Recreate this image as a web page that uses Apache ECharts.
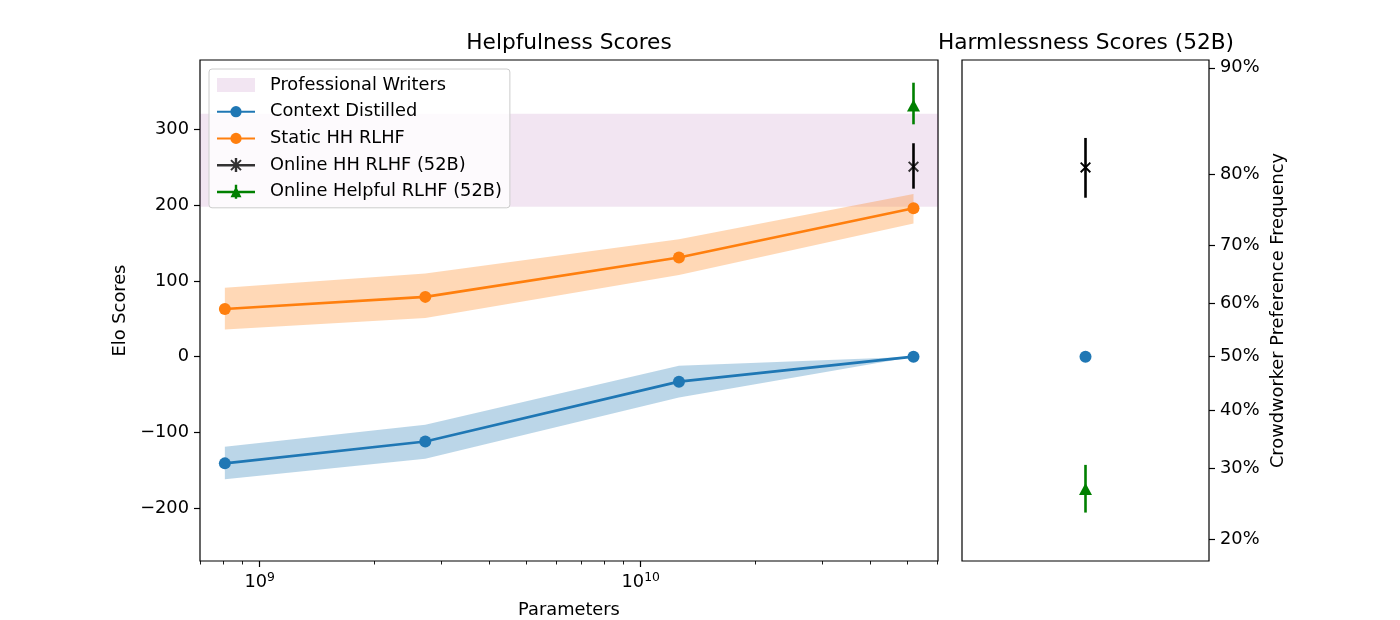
<!DOCTYPE html>
<html>
<head>
<meta charset="utf-8">
<script src="https://cdn.jsdelivr.net/npm/echarts@6/dist/echarts.min.js"></script>
<style>
  html, body { margin: 0; padding: 0; background: #fff; }
  #chart { width: 1400px; height: 620px; }
</style>
</head>
<body>
<div id="chart"></div>
<script>
// model sizes (parameters)
const params = [8.1e8, 2.72e9, 1.26e10, 5.2e10];

// helpfulness Elo
const cdElo = [-141, -112, -33, 0];
const cdUpper = [-119, -90, -12, 0];
const cdLower = [-162, -135, -54, 0];

const staticElo = [63, 79, 131, 196];
const staticUpper = [91, 110, 155, 215];
const staticLower = [36, 51, 108, 176];

const writersBand = [198, 321];

// 52B online models on the helpfulness panel: [elo, low, high]
const onlineHHHelp = [251, 222, 282];
const onlineHelpfulHelp = [332, 307, 362];

// harmlessness panel (Elo units, shown as preference %)
const harmCD = 0;
const harmOnlineHH = [250, 210, 289];
const harmOnlineHelpful = [-175, -206, -143];

// tick labels
const eloTicks = [-200, -100, 0, 100, 200, 300];
const pctTicks = [20, 30, 40, 50, 60, 70, 80, 90];
const decadeTicks = [9, 10];
const minorTickParams = [7e8, 8e8, 9e8, 2e9, 3e9, 4e9, 5e9, 6e9, 7e9, 8e9, 9e9,
  2e10, 3e10, 4e10, 5e10, 6e10];

const FONT = 'DejaVu Sans';
const FS = 17.8;
const C0 = '#1f77b4', C1 = '#ff7f0e', GREEN = '#008000';

const xMin = Math.log10(6.97e8), xMax = Math.log10(6.03e10);
const yMin = -270, yMax = 392;

const lx = params.map(p => Math.log10(p));
const pctToElo = p => 400 * Math.log10(p / (100 - p));

const chart = echarts.init(document.getElementById('chart'), null, { renderer: 'canvas' });

// symbols
const xMark = 'path://M1.7,0.3L11.7,10.3L10.3,11.7L0.3,1.7ZM1.7,11.7L0.3,10.3L10.3,0.3L11.7,1.7Z';
const legendX = 'path://M0,6L38,6L38,8.4L0,8.4ZM17.8,0L20.2,0L20.2,14L17.8,14Z' +
  'M14.7,1.3L24.7,11.3L23.3,12.7L13.3,2.7ZM14.7,12.7L13.3,11.3L23.3,1.3L24.7,2.7Z';
const legendTri = 'path://M0,6L38,6L38,8.4L0,8.4ZM17.8,0L20.2,0L20.2,14L17.8,14ZM19,1.5L24.5,12.5L13.5,12.5Z';

function bandRender(upper, lower, color) {
  return function (p, api) {
    if (p.dataIndex !== 0) return;
    const pts = [];
    for (let i = 0; i < lx.length; i++) pts.push(api.coord([lx[i], upper[i]]));
    for (let i = lx.length - 1; i >= 0; i--) pts.push(api.coord([lx[i], lower[i]]));
    return { type: 'polygon', shape: { points: pts }, style: { fill: color }, silent: true };
  };
}

function errRender(color) {
  return function (p, api) {
    const a = api.coord([api.value(0), api.value(1)]);
    const b = api.coord([api.value(0), api.value(2)]);
    return {
      type: 'line',
      shape: { x1: a[0], y1: a[1], x2: b[0], y2: b[1] },
      style: { stroke: color, lineWidth: 2.6 }
    };
  };
}

const axisText = { color: '#000', fontFamily: FONT, fontSize: FS };
const noLine = { show: false, onZero: false };
const titleText = { fontFamily: FONT, fontSize: 21.7, fontWeight: 'normal', color: '#000' };

const option = {
  animation: false,
  backgroundColor: '#fff',
  title: [
    { text: 'Helpfulness Scores', left: 569, top: 32, padding: 0, textAlign: 'center', textStyle: titleText },
    { text: 'Harmlessness Scores (52B)', left: 1086, top: 32, padding: 0, textAlign: 'center', textStyle: titleText }
  ],
  grid: [
    { left: 200, top: 60, width: 738, height: 501, show: true, outerBoundsMode: 'none',
      borderColor: '#000', borderWidth: 1.2, backgroundColor: 'transparent' },
    { left: 962, top: 60, width: 247, height: 501, show: true, outerBoundsMode: 'none',
      borderColor: '#000', borderWidth: 1.2, backgroundColor: 'transparent' }
  ],
  legend: {
    orient: 'vertical', left: 209, top: 69,
    itemWidth: 38, itemHeight: 14, itemGap: 8.7,
    padding: [7, 8, 7, 7],
    backgroundColor: 'rgba(255,255,255,0.8)',
    borderColor: '#cccccc', borderWidth: 1, borderRadius: 3,
    textStyle: { fontFamily: FONT, fontSize: FS, color: '#000', padding: [0, 0, 0, 10] },
    selectedMode: false,
    data: [
      { name: 'Professional Writers', icon: 'rect' },
      { name: 'Context Distilled' },
      { name: 'Static HH RLHF' },
      { name: 'Online HH RLHF (52B)', icon: legendX },
      { name: 'Online Helpful RLHF (52B)', icon: legendTri }
    ]
  },
  xAxis: [
    {
      gridIndex: 0, type: 'value', min: xMin, max: xMax,
      name: 'Parameters', nameLocation: 'middle', nameGap: 40,
      nameTextStyle: axisText,
      axisLine: noLine,
      splitLine: { show: false },
      axisTick: { show: true, length: 6, customValues: decadeTicks,
        lineStyle: { color: '#000', width: 1.2 } },
      axisLabel: {
        customValues: decadeTicks, margin: 11,
        formatter: v => '10{s|' + Math.round(v) + '}',
        color: '#000', fontFamily: FONT, fontSize: FS,
        rich: { s: { fontFamily: FONT, fontSize: 12.4, color: '#000', padding: [0, 0, 9, 0] } }
      }
    },
    {
      gridIndex: 0, type: 'value', min: xMin, max: xMax, position: 'bottom',
      axisLine: noLine, splitLine: { show: false },
      axisTick: { show: true, length: 3.5,
        customValues: minorTickParams.map(p => Math.log10(p)),
        lineStyle: { color: '#000', width: 0.9 } },
      axisLabel: { show: false }
    },
    {
      gridIndex: 1, type: 'value', min: -1, max: 1,
      axisLine: noLine, splitLine: { show: false },
      axisTick: { show: false }, axisLabel: { show: false }
    }
  ],
  yAxis: [
    {
      gridIndex: 0, type: 'value', min: yMin, max: yMax,
      name: 'Elo Scores', nameLocation: 'middle', nameGap: 70, nameTextStyle: axisText,
      axisLine: noLine, splitLine: { show: false },
      axisTick: { show: true, length: 6, customValues: eloTicks,
        lineStyle: { color: '#000', width: 1.2 } },
      axisLabel: { customValues: eloTicks, margin: 11,
        formatter: v => String(v).replace('-', '\u2212'),
        color: '#000', fontFamily: FONT, fontSize: FS }
    },
    {
      gridIndex: 1, type: 'value', min: yMin, max: yMax, position: 'right',
      name: 'Crowdworker Preference Frequency', nameLocation: 'middle', nameGap: 60,
      nameRotate: 90, nameTextStyle: axisText,
      axisLine: noLine, splitLine: { show: false },
      axisTick: { show: true, length: 6, customValues: pctTicks.map(pctToElo),
        lineStyle: { color: '#000', width: 1.2 } },
      axisLabel: { customValues: pctTicks.map(pctToElo), margin: 11,
        formatter: v => Math.round(100 / (1 + Math.pow(10, -v / 400))) + '%',
        color: '#000', fontFamily: FONT, fontSize: FS }
    }
  ],
  series: [
    {
      name: 'Professional Writers', type: 'custom', xAxisIndex: 0, yAxisIndex: 0,
      itemStyle: { color: 'rgba(128,0,128,0.1)' },
      data: [writersBand],
      renderItem: function (p, api) {
        const cs = p.coordSys;
        const top = api.coord([xMin, api.value(1)])[1];
        const bot = api.coord([xMin, api.value(0)])[1];
        return { type: 'rect', shape: { x: cs.x, y: top, width: cs.width, height: bot - top },
          style: { fill: 'rgba(128,0,128,0.1)' }, silent: true };
      },
      z: 1
    },
    {
      name: 'cd band', type: 'custom', xAxisIndex: 0, yAxisIndex: 0,
      data: [[lx[0], cdElo[0]]], renderItem: bandRender(cdUpper, cdLower, 'rgba(31,119,180,0.3)'), z: 1
    },
    {
      name: 'static band', type: 'custom', xAxisIndex: 0, yAxisIndex: 0,
      data: [[lx[0], staticElo[0]]], renderItem: bandRender(staticUpper, staticLower, 'rgba(255,127,14,0.3)'), z: 1
    },
    {
      name: 'Context Distilled', type: 'line', xAxisIndex: 0, yAxisIndex: 0,
      data: lx.map((x, i) => [x, cdElo[i]]),
      symbol: 'circle', symbolSize: 12, showSymbol: true,
      lineStyle: { color: C0, width: 2.6 }, itemStyle: { color: C0 }, z: 3
    },
    {
      name: 'Static HH RLHF', type: 'line', xAxisIndex: 0, yAxisIndex: 0,
      data: lx.map((x, i) => [x, staticElo[i]]),
      symbol: 'circle', symbolSize: 12, showSymbol: true,
      lineStyle: { color: C1, width: 2.6 }, itemStyle: { color: C1 }, z: 3
    },
    {
      name: 'hh err', type: 'custom', xAxisIndex: 0, yAxisIndex: 0,
      data: [[lx[3], onlineHHHelp[1], onlineHHHelp[2]]], renderItem: errRender('#000'), z: 3
    },
    {
      name: 'helpful err', type: 'custom', xAxisIndex: 0, yAxisIndex: 0,
      data: [[lx[3], onlineHelpfulHelp[1], onlineHelpfulHelp[2]]], renderItem: errRender(GREEN), z: 3
    },
    {
      name: 'Online HH RLHF (52B)', type: 'scatter', xAxisIndex: 0, yAxisIndex: 0,
      data: [[lx[3], onlineHHHelp[0]]],
      symbol: xMark, symbolSize: 11, itemStyle: { color: '#000' }, z: 4
    },
    {
      name: 'Online Helpful RLHF (52B)', type: 'scatter', xAxisIndex: 0, yAxisIndex: 0,
      data: [[lx[3], onlineHelpfulHelp[0]]],
      symbol: 'triangle', symbolSize: [13, 12], itemStyle: { color: GREEN, opacity: 1 }, z: 4
    },
    // harmlessness panel
    {
      name: 'harm hh err', type: 'custom', xAxisIndex: 2, yAxisIndex: 1,
      data: [[0, harmOnlineHH[1], harmOnlineHH[2]]], renderItem: errRender('#000'), z: 3
    },
    {
      name: 'harm helpful err', type: 'custom', xAxisIndex: 2, yAxisIndex: 1,
      data: [[0, harmOnlineHelpful[1], harmOnlineHelpful[2]]], renderItem: errRender(GREEN), z: 3
    },
    {
      name: 'harm cd', type: 'scatter', xAxisIndex: 2, yAxisIndex: 1,
      data: [[0, harmCD]], symbol: 'circle', symbolSize: 12, itemStyle: { color: C0, opacity: 1 }, z: 4
    },
    {
      name: 'harm hh', type: 'scatter', xAxisIndex: 2, yAxisIndex: 1,
      data: [[0, harmOnlineHH[0]]], symbol: xMark, symbolSize: 11, itemStyle: { color: '#000', opacity: 1 }, z: 4
    },
    {
      name: 'harm helpful', type: 'scatter', xAxisIndex: 2, yAxisIndex: 1,
      data: [[0, harmOnlineHelpful[0]]], symbol: 'triangle', symbolSize: [13, 12],
      itemStyle: { color: GREEN, opacity: 1 }, z: 4
    }
  ]
};

chart.setOption(option);
</script>
</body>
</html>
